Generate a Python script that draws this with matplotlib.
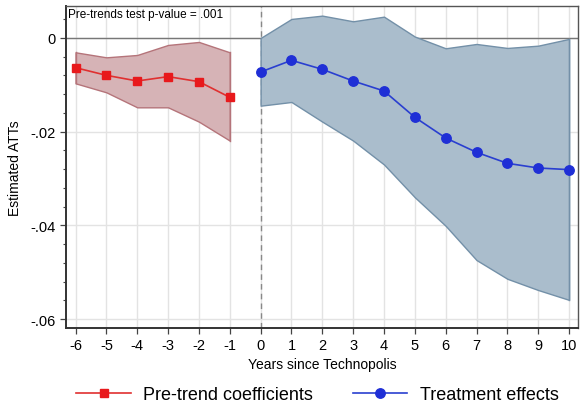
import matplotlib
matplotlib.use("Agg")
import matplotlib.pyplot as plt
from matplotlib.ticker import FixedLocator

plt.rcParams['font.family'] = ['Liberation Sans', 'DejaVu Sans']

pre_x = [-6, -5, -4, -3, -2, -1]
pre_coef = [-0.00634, -0.00797, -0.00918, -0.00825, -0.00932, -0.01266]
pre_hi = [-0.00306, -0.00413, -0.00363, -0.00149, -0.00085, -0.00306]
pre_lo = [-0.00968, -0.0116, -0.0148, -0.0148, -0.01786, -0.0219]

post_x = [0, 1, 2, 3, 4, 5, 6, 7, 8, 9, 10]
post_coef = [-0.00726, -0.00477, -0.00669, -0.00918, -0.01131, -0.01693,
             -0.02134, -0.0244, -0.02675, -0.02775, -0.0281]
post_hi = [0.0, 0.00406, 0.00477, 0.00356, 0.00455, 0.0003,
           -0.0022, -0.00128, -0.00213, -0.00164, -0.0002]
post_lo = [-0.01445, -0.01366, -0.01786, -0.0219, -0.0270, -0.034,
           -0.0401, -0.0474, -0.0514, -0.0538, -0.0559]

ytick_vals = [0, -0.02, -0.04, -0.06]
ytick_labels = ['0', '-.02', '-.04', '-.06']

fig = plt.figure(figsize=(5.88, 4.06), dpi=100)
ax = fig.add_axes([0.1122, 0.1897, 0.8708, 0.7931])

ax.fill_between(pre_x, pre_lo, pre_hi, facecolor='#d6b3b6', edgecolor='#b5747a', lw=1.0, zorder=2)
ax.fill_between(post_x, post_lo, post_hi, facecolor='#aabdcc', edgecolor='#7390a8', lw=1.0, zorder=2)
ax.plot([post_x[-1], post_x[-1]], [post_lo[-1], post_hi[-1]], color='#7390a8', lw=1.0, zorder=2)
ax.plot([pre_x[0], pre_x[0]], [pre_lo[0], pre_hi[0]], color='#b5747a', lw=1.0, zorder=2)
ax.plot([pre_x[-1], pre_x[-1]], [pre_lo[-1], pre_hi[-1]], color='#b5747a', lw=1.0, zorder=2)

ax.axhline(0, color='#777777', lw=1.0, zorder=1.5)
ax.axvline(0, color='#888888', lw=1.0, ls=(0, (4, 3)), zorder=1.5)

l1, = ax.plot(pre_x, pre_coef, color='#e03030', lw=1.2, marker='s', ms=6.2,
              mfc='#e8191c', mec='#e8191c', zorder=4, label='Pre-trend coefficients')
l2, = ax.plot(post_x, post_coef, color='#2a3fd0', lw=1.2, marker='o', ms=6.8,
              mfc='#1f2fd6', mec='#1f2fd6', zorder=4, label='Treatment effects')

ax.set_xlim(-6.31, 10.29)
ax.set_ylim(-0.0619, 0.00683)
ax.set_xticks(list(range(-6, 11)))
ax.set_xticklabels([str(v) for v in range(-6, 11)])
ax.set_yticks(ytick_vals)
ax.set_yticklabels(ytick_labels)
ax.yaxis.set_minor_locator(FixedLocator([0.004 - 0.004 * i for i in range(18)]))
ax.tick_params(axis='both', which='major', labelsize=10.5, direction='out', length=4, width=0.9, color='#444444')
ax.tick_params(axis='y', which='minor', direction='out', length=2.5, width=0.8, color='#444444')
ax.grid(True, which='major', color='#e3e3e3', lw=1.0, zorder=0)
ax.set_axisbelow(True)

for s in ax.spines.values():
    s.set_color('#555555')
    s.set_linewidth(1.0)
ax.spines['left'].set_linewidth(1.4)
ax.spines['bottom'].set_linewidth(1.4)
ax.spines['left'].set_color('#333333')
ax.spines['bottom'].set_color('#333333')

ax.set_xlabel('Years since Technopolis', fontsize=10, labelpad=3)
ax.set_ylabel('Estimated ATTs', fontsize=10, labelpad=6)

ax.text(0.003, 0.995, 'Pre-trends test p-value = .001', transform=ax.transAxes,
        ha='left', va='top', fontsize=8.5)

fig.legend(handles=[l1, l2], loc='center', bbox_to_anchor=(0.54, 0.026), ncol=2,
           frameon=False, fontsize=13, handlelength=3.0, columnspacing=2.2, handletextpad=0.7)

fig.savefig('out.png', dpi=100)
